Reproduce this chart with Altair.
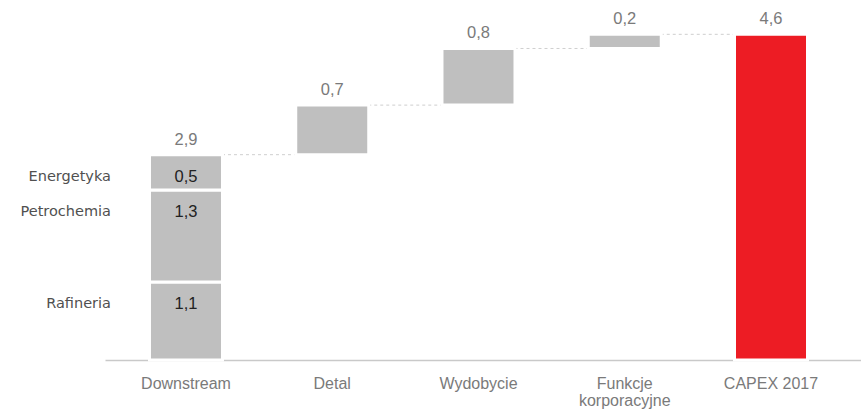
import altair as alt
import pandas as pd

# Waterfall of 2017 CAPEX by segment (bn PLN)
categories = ["Downstream", "Detal", "Wydobycie", "Funkcje korporacyjne", "CAPEX 2017"]
downstream_parts = ["Rafineria", "Petrochemia", "Energetyka"]
downstream_values = [1.1, 1.3, 0.5]
step_categories = ["Detal", "Wydobycie", "Funkcje korporacyjne"]
step_values = [0.7, 0.8, 0.2]
total_label = "CAPEX 2017"
total_value = 4.6

GREY = "#bfbfbf"
RED = "#ed1c24"


def fmt(v):
    return f"{v:.1f}".replace(".", ",")


# Stacked Downstream segments
bars = []
seg_labels = []
level = 0.0
for name, v in zip(downstream_parts, downstream_values):
    bars.append({"category": "Downstream", "y0": round(level, 2), "y1": round(level + v, 2), "color": GREY})
    seg_labels.append({"category": "Downstream", "part": name, "top": round(level + v, 2), "text": fmt(v)})
    level += v
level = round(level, 2)

top_labels = [{"category": "Downstream", "top": level, "text": fmt(level)}]
connectors = []
prev = "Downstream"
for cat, v in zip(step_categories, step_values):
    connectors.append({"from": prev, "to": cat, "level": level})
    bars.append({"category": cat, "y0": level, "y1": round(level + v, 2), "color": GREY})
    top_labels.append({"category": cat, "top": round(level + v, 2), "text": fmt(v)})
    level = round(level + v, 2)
    prev = cat
connectors.append({"from": prev, "to": total_label, "level": level})
bars.append({"category": total_label, "y0": 0.0, "y1": total_value, "color": RED})
top_labels.append({"category": total_label, "top": total_value, "text": fmt(total_value)})

bars_df = pd.DataFrame(bars)
seg_df = pd.DataFrame(seg_labels)
top_df = pd.DataFrame(top_labels)
conn_df = pd.DataFrame(connectors)

x_scale = alt.Scale(domain=categories, paddingInner=0.5009, paddingOuter=0.335, align=0.454)
y_scale = alt.Scale(domain=[0, 5], nice=False)

x_axis = alt.Axis(
    title=None,
    labelAngle=0,
    ticks=False,
    labelFont="Liberation Sans",
    labelFontSize=16,
    labelColor="#7a7a7a",
    labelPadding=15,
    labelLineHeight=17,
    labelBaseline="top",
    domainColor="#c9c9c9",
    domainWidth=1.5,
    labelExpr="datum.label == 'Funkcje korporacyjne' ? ['Funkcje', 'korporacyjne'] : datum.label",
)

connector_layer = alt.Chart(conn_df).mark_rule(
    color="#cfcfcf", strokeDash=[3, 3], strokeWidth=1
).encode(
    x=alt.X("from:N", scale=x_scale, axis=x_axis),
    x2="to:N",
    y=alt.Y("level:Q", scale=y_scale, axis=None),
)

bar_layer = alt.Chart(bars_df).mark_bar(stroke="white", strokeWidth=3).encode(
    x=alt.X("category:N", scale=x_scale, axis=x_axis),
    y=alt.Y("y0:Q", scale=y_scale, axis=None),
    y2="y1:Q",
    color=alt.Color("color:N", scale=None),
)

top_text = alt.Chart(top_df).mark_text(
    font="Liberation Sans", fontSize=16.5, color="#7a7a7a", baseline="bottom", dy=-7
).encode(
    x=alt.X("category:N", scale=x_scale, axis=x_axis),
    y=alt.Y("top:Q", scale=y_scale, axis=None),
    text="text:N",
)

seg_text = alt.Chart(seg_df).mark_text(
    font="Liberation Sans", fontSize=16.5, color="#222222", baseline="middle", dy=22
).encode(
    x=alt.X("category:N", scale=x_scale, axis=x_axis),
    y=alt.Y("top:Q", scale=y_scale, axis=None),
    text="text:N",
)

part_text = alt.Chart(seg_df).mark_text(
    font="DejaVu Sans", fontSize=14.5, color="#505050", baseline="middle", align="right", dy=22, dx=-75
).encode(
    x=alt.X("category:N", scale=x_scale, axis=x_axis),
    y=alt.Y("top:Q", scale=y_scale, axis=None),
    text="part:N",
)

chart = alt.layer(connector_layer, bar_layer, top_text, seg_text, part_text).properties(
    width=756,
    height=354,
    autosize=alt.AutoSizeParams(type="none"),
    padding={"left": 105, "top": 6, "right": 0, "bottom": 50},
    background="white",
).configure_view(stroke=None)

chart.save("out.html", embed_options={"renderer": "svg", "actions": False})
